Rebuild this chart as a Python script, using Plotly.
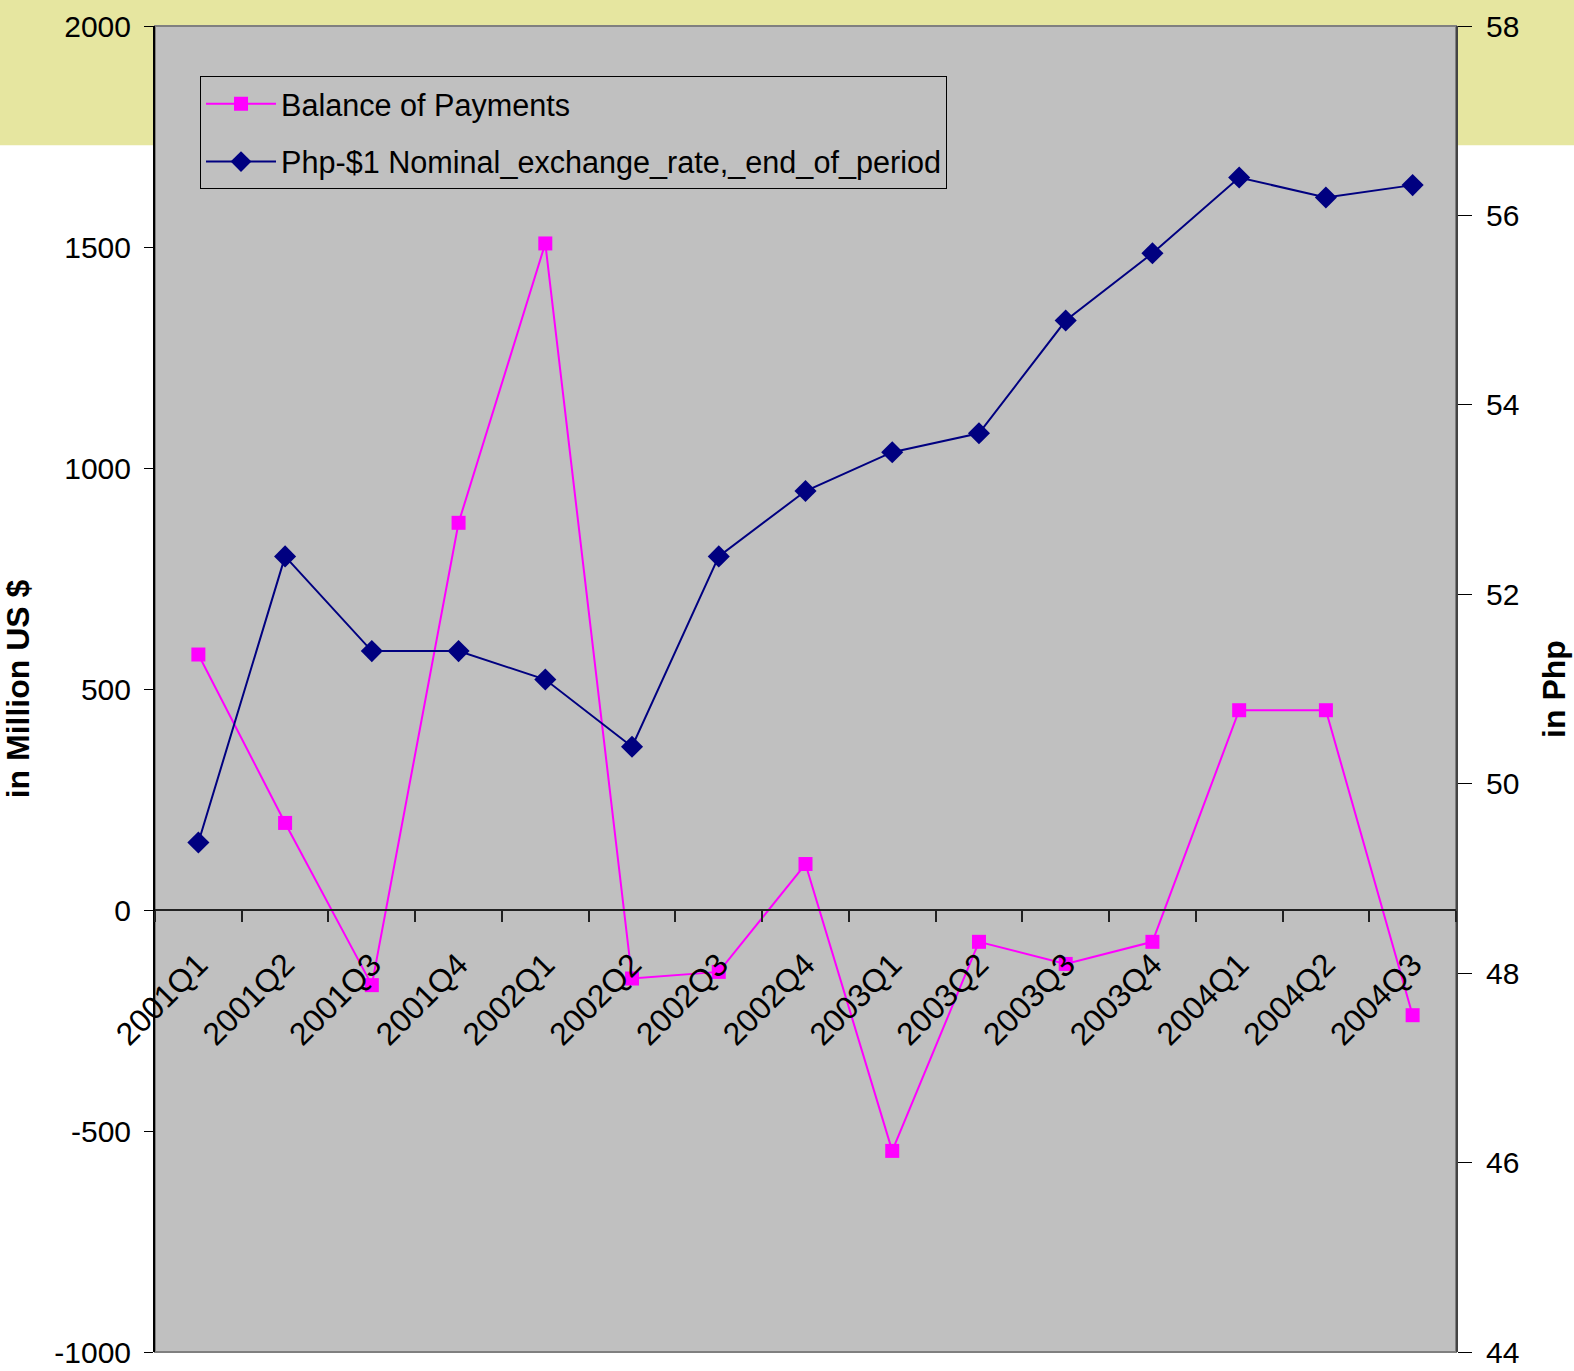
import plotly.graph_objects as go

categories = ["2001Q1", "2001Q2", "2001Q3", "2001Q4", "2002Q1", "2002Q2", "2002Q3", "2002Q4",
              "2003Q1", "2003Q2", "2003Q3", "2003Q4", "2004Q1", "2004Q2", "2004Q3"]
balance_of_payments = [578, 197, -170, 876, 1508, -155, -140, 104, -545, -72, -122, -72, 452, 452, -238]
exchange_rate = [49.38, 52.40, 51.40, 51.40, 51.10, 50.39, 52.40, 53.09, 53.50, 53.70,
                 54.89, 55.60, 56.40, 56.19, 56.32]
left_ticks = [-1000, -500, 0, 500, 1000, 1500, 2000]
left_tick_text = ["-1000", "-500", "0", "500", "1000", "1500", "2000"]
right_ticks = [44, 46, 48, 50, 52, 54, 56, 58]
right_tick_text = ["44", "46", "48", "50", "52", "54", "56", "58"]

FONT = "Liberation Sans, Arial, sans-serif"

fig = go.Figure()
fig.add_trace(go.Scatter(
    x=categories, y=balance_of_payments, name="Balance of Payments",
    mode="lines+markers", yaxis="y", legendgroup="a",
    line=dict(color="#FF00FF", width=2),
    marker=dict(symbol="square", size=14, color="#FF00FF"),
))
fig.add_trace(go.Scatter(
    x=categories, y=exchange_rate, name="Php-$1 Nominal_exchange_rate,_end_of_period",
    mode="lines+markers", yaxis="y2", legendgroup="b",
    line=dict(color="#000080", width=2),
    marker=dict(symbol="diamond", size=17, color="#000080"),
))

fig.update_layout(
    width=1574, height=1371,
    margin=dict(l=155, r=118, t=26, b=19, autoexpand=False),
    paper_bgcolor="white",
    plot_bgcolor="rgba(0,0,0,0)",
    font=dict(family=FONT, size=30, color="black"),
    showlegend=True,
    legend=dict(
        x=0.0346, y=0.962, xanchor="left", yanchor="top",
        bgcolor="#C0C0C0", bordercolor="black", borderwidth=1,
        font=dict(family=FONT, size=30.6, color="black"),
        tracegroupgap=15, itemwidth=70,
    ),
    xaxis=dict(
        type="category", range=[-0.5, 14.5],
        anchor="free", position=1/3, automargin=False,
        showline=True, linecolor="#222222", linewidth=2,
        ticks="outside", ticklen=11, tickcolor="#222222", tickwidth=1.5,
        tickson="boundaries", tickangle=-45,
        showgrid=False, zeroline=False,
        tickfont=dict(family=FONT, size=32, color="black"),
        ticklabelstandoff=22,
    ),
    yaxis=dict(
        range=[-1000, 2000], tickvals=left_ticks, ticktext=left_tick_text,
        automargin=False,
        showline=True, linecolor="black", linewidth=2,
        ticks="outside", ticklen=9, tickcolor="black",
        showgrid=False, zeroline=False,
        tickfont=dict(family=FONT, size=30, color="black"),
        ticklabelstandoff=7, ticklabeloverflow="allow",
        title=dict(text="<b>in Million US $</b>", font=dict(family=FONT, size=32, color="black"), standoff=16),
    ),
    yaxis2=dict(
        range=[44, 58], tickvals=right_ticks, ticktext=right_tick_text,
        overlaying="y", side="right", anchor="x", automargin=False,
        showline=True, linecolor="#444444", linewidth=2,
        ticks="outside", ticklen=14, tickcolor="black",
        showgrid=False, zeroline=False,
        tickfont=dict(family=FONT, size=30, color="black"),
        ticklabelstandoff=8, ticklabeloverflow="allow",
        title=dict(text="<b>in Php</b>", font=dict(family=FONT, size=32, color="black"), standoff=24),
    ),
    shapes=[
        dict(type="rect", xref="paper", yref="paper", x0=-0.2, x1=1.2, y0=0.910, y1=1.05,
             fillcolor="rgb(230,230,160)", line=dict(width=0), layer="below"),
        dict(type="rect", xref="paper", yref="paper", x0=0, x1=1, y0=0, y1=1,
             fillcolor="#C0C0C0", line=dict(color="#808080", width=2), layer="below"),
    ],
)

fig.write_html("out.html")
